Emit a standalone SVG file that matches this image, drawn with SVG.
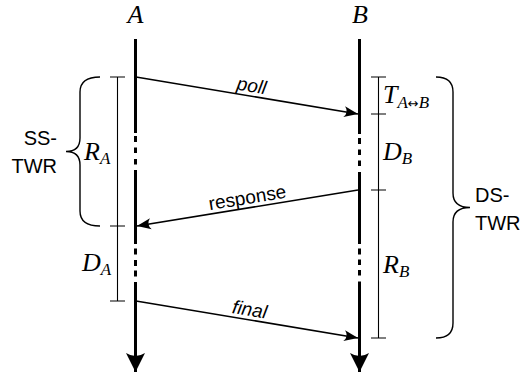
<svg xmlns="http://www.w3.org/2000/svg" width="528" height="381" viewBox="0 0 528 381">
<style>
.axis{stroke:#000;stroke-width:3;fill:none}
.msg{stroke:#000;stroke-width:1.6;fill:none}
.thin{stroke:#000;stroke-width:1.1;fill:none}
.brace{stroke:#000;stroke-width:1.4;fill:none}
.sans{font-family:"Liberation Sans",Arial,sans-serif;font-size:20px;fill:#000}
.lbl{font-family:"Liberation Sans",Arial,sans-serif;font-size:19px;fill:#000}
.math{font-family:"Liberation Serif","DejaVu Serif",serif;font-style:italic;font-size:26px;fill:#000}
.sub{font-size:17px}
.arr{font-family:"DejaVu Sans",sans-serif;font-style:normal;font-size:13px}
</style>
<defs>
<marker id="ah" markerUnits="userSpaceOnUse" markerWidth="20" markerHeight="16" viewBox="-16 -8 20 16" refX="0" refY="0" orient="auto">
<path d="M0,0 L-14,-5.5 Q-9,0 -14,5.5 Z" fill="#000"/>
</marker>
<marker id="axh" markerUnits="userSpaceOnUse" markerWidth="24" markerHeight="24" viewBox="-20 -12 24 24" refX="0" refY="0" orient="auto">
<path d="M0,0 L-19,-9.5 Q-13,0 -19,9.5 Z" fill="#000"/>
</marker>
</defs>
<g id="node-A">
<text class="math" x="135.5" y="23" font-size="21" text-anchor="middle">A</text>
<path class="axis" d="M135.5,39 V133 M135.5,136 V142 M135.5,147.5 V153 M135.5,159 V164.5 M135.5,170 V244 M135.5,248.5 V254.5 M135.5,260 V266 M135.5,270.5 V276.5 M135.5,282 V372" marker-end="url(#axh)"/>
</g>
<g id="node-B">
<text class="math" x="360" y="23" font-size="21" text-anchor="middle">B</text>
<path class="axis" d="M359.5,39 V134 M359.5,138 V144 M359.5,149.5 V155 M359.5,160.5 V166 M359.5,172 V244 M359.5,248.5 V254.5 M359.5,259.5 V265 M359.5,270 V275.5 M359.5,281.5 V372" marker-end="url(#axh)"/>
</g>
<g id="connectors">
<line class="msg" x1="136" y1="77" x2="358" y2="114" marker-end="url(#ah)"/>
<line class="msg" x1="358" y1="190" x2="137" y2="226" marker-end="url(#ah)"/>
<line class="msg" x1="136" y1="301" x2="358" y2="338" marker-end="url(#ah)"/>
<text class="lbl" font-style="italic" text-anchor="middle" transform="translate(250,96) rotate(9.46)" y="-4">poll</text>
<text class="lbl" text-anchor="middle" transform="translate(249,207.8) rotate(-9.25)" y="-4">response</text>
<text class="lbl" font-style="italic" text-anchor="middle" transform="translate(248,319.7) rotate(9.46)" y="-4">final</text>
</g>
<g id="interval-RA">
<path class="thin" d="M117.5,77 V301 M110,77 H125 M110,226 H125 M110,301 H125"/>
<text class="math" x="84" y="160">R<tspan class="sub" dy="4">A</tspan></text>
<text class="math" x="82" y="271">D<tspan class="sub" dy="4">A</tspan></text>
</g>
<g id="interval-B">
<path class="thin" d="M378.5,77 V338 M371,77 H386 M371,114 H386 M371,190 H386 M371,338 H386"/>
<text class="math" x="383" y="103">T<tspan class="sub" dy="5">A</tspan><tspan class="arr">↔</tspan><tspan class="sub">B</tspan></text>
<text class="math" x="383" y="160">D<tspan class="sub" dy="4">B</tspan></text>
<text class="math" x="383" y="273">R<tspan class="sub" dy="4">B</tspan></text>
</g>
<g id="brace-SS">
<path class="brace" d="M100,77 Q80,77 80,92 V138 Q80,151.5 66,151.5 Q80,151.5 80,165 V211 Q80,226 100,226"/>
<text class="sans" x="57" y="145" text-anchor="end">SS-</text>
<text class="sans" x="57" y="173" text-anchor="end">TWR</text>
</g>
<g id="brace-DS">
<path class="brace" d="M436,77 Q453,77 453,92 V193 Q453,207.5 470,207.5 Q453,207.5 453,222 V323 Q453,338 436,338"/>
<text class="sans" x="475" y="202">DS-</text>
<text class="sans" x="475" y="230">TWR</text>
</g>
</svg>
